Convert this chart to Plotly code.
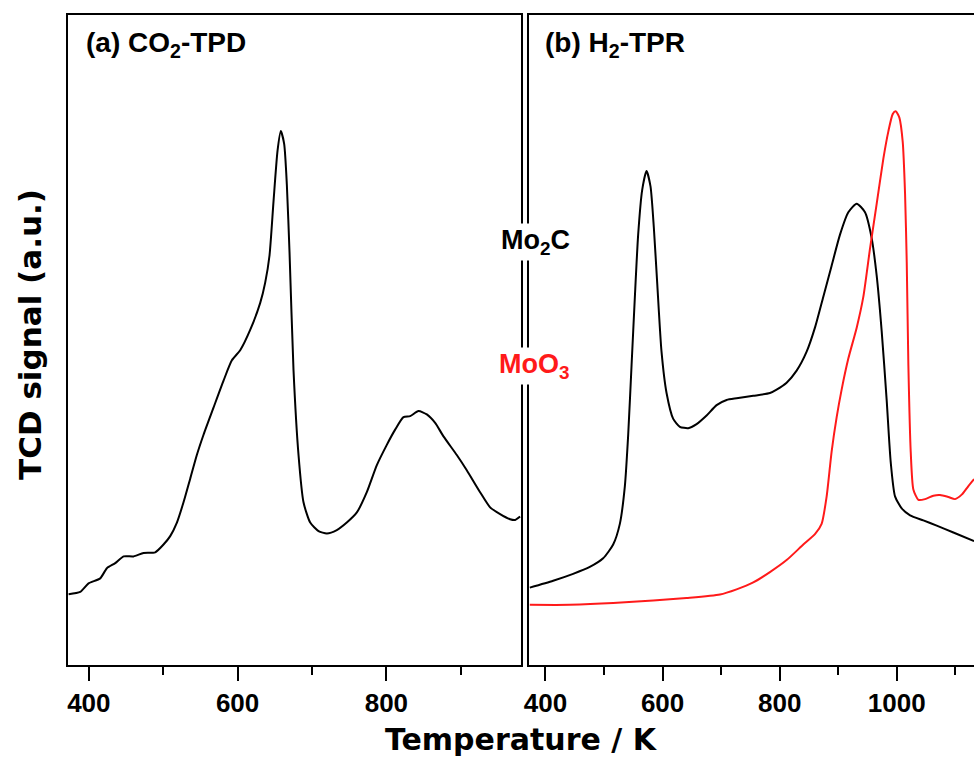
import plotly.graph_objects as go

# (a) CO2-TPD of Mo2C
tpd_T = [372.8, 388.4, 399.6, 415.3, 424.3, 435.5, 446.7, 460.1, 473.6, 489.2,
         500.4, 509.4, 518.4, 527.3, 536.3, 545.2, 554.2, 567.6, 581.1, 592.3,
         603.5, 616.9, 630.4, 637.1, 642.9, 648.3, 653.7, 658.1, 662.6, 666.2,
         669.8, 675.2, 681.9, 688.6, 697.6, 708.8, 720.0, 733.4, 746.8, 760.3,
         773.7, 787.2, 800.6, 811.8, 823.0, 832.0, 843.2, 854.4, 865.6, 876.8,
         894.7, 908.1, 926.0, 939.5, 952.9, 966.4, 973.1, 979.8]
tpd_sig = [10.88, 11.24, 12.55, 13.33, 14.89, 15.67, 16.71, 16.71, 17.23, 17.33,
           18.53, 19.83, 21.91, 25.03, 28.67, 32.31, 35.43, 39.59, 43.75, 46.87,
           48.43, 51.55, 55.71, 58.83, 63.00, 71.32, 79.12, 82.14, 80.16, 73.92,
           63.52, 45.31, 32.31, 25.03, 21.91, 20.61, 20.24, 20.76, 21.91, 23.47,
           26.59, 30.75, 33.87, 36.21, 38.13, 38.29, 39.07, 38.55, 37.25, 35.17,
           32.31, 29.97, 26.59, 24.25, 23.21, 22.43, 22.32, 22.84]

# (b) H2-TPR of Mo2C
tpr_mo2c_T = [373.2, 413.1, 447.2, 475.7, 498.5, 515.6, 527.0, 535.6, 541.3, 547.0,
              552.7, 558.3, 565.2, 572.6, 579.4, 585.1, 590.8, 598.2, 606.8, 618.2,
              629.6, 643.8, 658.1, 675.2, 692.3, 709.4, 726.4, 754.9, 783.4, 794.8,
              811.9, 829.0, 846.1, 860.3, 874.6, 888.8, 903.1, 917.3, 931.6, 945.8,
              957.2, 965.8, 974.3, 982.8, 989.7, 997.1, 1008.5, 1022.8, 1045.5, 1068.3,
              1096.8, 1132.1]
tpr_mo2c_sig = [11.90, 12.96, 14.02, 15.08, 16.41, 18.53, 21.71, 27.53, 35.48, 46.08,
                56.67, 66.21, 73.10, 76.01, 73.63, 67.27, 58.79, 48.20, 41.84, 37.86,
                36.65, 36.44, 37.07, 38.39, 39.98, 40.78, 41.04, 41.41, 41.84, 42.37,
                43.43, 45.28, 48.20, 51.90, 56.67, 61.44, 66.21, 69.65, 70.98, 69.65,
                65.68, 59.85, 51.37, 40.78, 31.24, 25.94, 24.09, 23.03, 22.24, 21.44,
                20.38, 19.06]

# (b) H2-TPR of MoO3
tpr_moo3_T = [373.2, 441.5, 515.6, 584.0, 641.0, 698.0, 726.4, 754.9, 783.4, 811.9,
              840.4, 860.3, 871.7, 880.3, 888.8, 897.4, 905.9, 917.3, 931.6, 943.0,
              954.4, 965.8, 977.1, 985.7, 993.1, 998.2, 1004.5, 1010.2, 1014.2, 1017.1,
              1019.9, 1023.9, 1028.4, 1037.0, 1048.4, 1062.6, 1074.0, 1088.3, 1099.6, 1111.0,
              1122.4, 1132.1]
tpr_moo3_sig = [9.26, 9.26, 9.52, 9.94, 10.31, 10.84, 11.64, 12.70, 14.29, 16.14,
                18.53, 20.12, 21.71, 25.94, 32.83, 38.13, 42.37, 47.14, 51.90, 56.67,
                64.09, 70.98, 77.86, 82.10, 84.75, 85.18, 84.22, 80.51, 72.57, 61.97,
                46.08, 32.83, 27.00, 25.41, 25.52, 26.05, 26.16, 25.84, 25.52, 26.21,
                27.53, 28.59]

x_range_a = [372, 981]
x_range_b = [371, 1132]
sig_range = [0, 100]

TICK_FONT = dict(family="Liberation Sans, Arial, sans-serif", size=26, color="black", weight="bold")
LABEL_FONT = "Liberation Sans, Arial, sans-serif"
TITLE_FONT = "DejaVu Sans, sans-serif"
RED = "#ff1a1a"

fig = go.Figure()
curve = dict(shape="spline", smoothing=0.6, width=2)
fig.add_trace(go.Scatter(x=tpd_T, y=tpd_sig, mode="lines", line=dict(curve, color="black"),
                         xaxis="x", yaxis="y", showlegend=False))
fig.add_trace(go.Scatter(x=tpr_mo2c_T, y=tpr_mo2c_sig, mode="lines", line=dict(curve, color="black"),
                         xaxis="x2", yaxis="y2", showlegend=False))
fig.add_trace(go.Scatter(x=tpr_moo3_T, y=tpr_moo3_sig, mode="lines", line=dict(curve, color=RED),
                         xaxis="x2", yaxis="y2", showlegend=False))

xcommon = dict(showline=True, linecolor="black", linewidth=2, mirror=True,
               ticks="outside", ticklen=14, tickwidth=2, tickcolor="black",
               dtick=200, tick0=400, tickfont=TICK_FONT, showgrid=False, zeroline=False,
               minor=dict(ticks="outside", dtick=100, tick0=400, ticklen=8, tickwidth=2,
                          tickcolor="black", showgrid=False),
               fixedrange=True)
ycommon = dict(showline=True, linecolor="black", linewidth=2, ticks="", showticklabels=False,
               showgrid=False, zeroline=False, range=sig_range, domain=[0, 1])

fig.update_layout(
    width=974, height=763,
    margin=dict(l=68, r=0, t=15, b=98),
    paper_bgcolor="white", plot_bgcolor="white",
    xaxis=dict(xcommon, domain=[0, 0.5], range=x_range_a, anchor="y"),
    xaxis2=dict(xcommon, domain=[0.5083, 1.0], range=x_range_b, anchor="y2"),
    yaxis=dict(ycommon, mirror=True, anchor="x"),
    yaxis2=dict(ycommon, mirror=False, anchor="x2"),
)

annotations = [
    dict(text="(a) CO<sub>2</sub>-TPD", x=0.0182, y=0.955, xanchor="left", yanchor="middle",
         font=dict(family=LABEL_FONT, size=28, color="black", weight="bold")),
    dict(text="(b) H<sub>2</sub>-TPR", x=0.5246, y=0.955, xanchor="left", yanchor="middle",
         font=dict(family=LABEL_FONT, size=28, color="black", weight="bold")),
    dict(text="Mo<sub>2</sub>C", x=(535.8 - 68) / 906, y=(665 - 242) / 650, xanchor="center",
         yanchor="middle", bgcolor="white", borderpad=1,
         font=dict(family=LABEL_FONT, size=27, color="black", weight="bold")),
    dict(text="MoO<sub>3</sub>", x=(534.5 - 68) / 906, y=(665 - 366) / 650, xanchor="center",
         yanchor="middle", bgcolor="white", borderpad=1,
         font=dict(family=LABEL_FONT, size=27, color=RED, weight="bold")),
    dict(text="Temperature / K", x=(521.7 - 68) / 906, y=(665 - 739) / 650, xanchor="center",
         yanchor="middle", font=dict(family=TITLE_FONT, size=30, color="black", weight="bold")),
    dict(text="TCD signal (a.u.)", x=(30 - 68) / 906, y=(665 - 335) / 650, xanchor="center",
         yanchor="middle", textangle=-90,
         font=dict(family=TITLE_FONT, size=31, color="black", weight="bold")),
]
for a in annotations:
    a.update(xref="paper", yref="paper", showarrow=False)
fig.update_layout(annotations=annotations)

fig.write_html("out.html")
